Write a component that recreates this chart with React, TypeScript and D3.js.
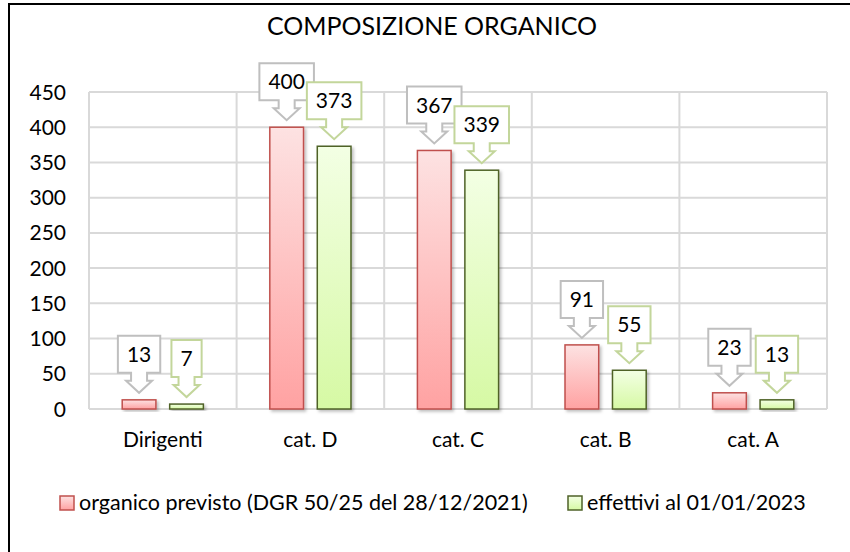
import { useRef, useEffect } from 'react'
import * as d3 from 'd3'

const categories = ['Dirigenti', 'cat. D', 'cat. C', 'cat. B', 'cat. A']
const organicoPrevisto = [13, 400, 367, 91, 23]
const effettivi = [7, 373, 339, 55, 13]
const seriesNames = ['organico previsto (DGR 50/25 del 28/12/2021)', 'effettivi al 01/01/2023']
const yTicks = [0, 50, 100, 150, 200, 250, 300, 350, 400, 450]
const title = 'COMPOSIZIONE ORGANICO'

const FONT = 'Lato, "Liberation Sans", sans-serif'

const App = () => {
  const svgRef = useRef<SVGSVGElement>(null)

  useEffect(() => {
    document.body.style.margin = '0'
    const svg = d3.select(svgRef.current)
    svg.selectAll('*').remove()

    const width = 850
    const height = 552
    const plot = { left: 89, right: 827, top: 92, bottom: 409 }

    const defs = svg.append('defs')
    const grad = (id: string, top: string, bottom: string) => {
      const g = defs.append('linearGradient').attr('id', id).attr('x1', 0).attr('y1', 0).attr('x2', 0).attr('y2', 1)
      g.append('stop').attr('offset', '0%').attr('stop-color', top)
      g.append('stop').attr('offset', '100%').attr('stop-color', bottom)
    }
    grad('gRed', '#fde2e2', '#ffa2a2')
    grad('gGreen', '#f3ffe4', '#d6f9a4')
    defs
      .append('filter')
      .attr('id', 'shadow')
      .attr('x', '-20%')
      .attr('y', '-20%')
      .attr('width', '150%')
      .attr('height', '150%')
      .append('feDropShadow')
      .attr('dx', 2)
      .attr('dy', 2)
      .attr('stdDeviation', 1.5)
      .attr('flood-color', '#000')
      .attr('flood-opacity', 0.25)

    svg.append('rect').attr('width', width).attr('height', height).attr('fill', '#fff')

    // outer frame (runs past the right and bottom edges)
    svg
      .append('rect')
      .attr('x', 9)
      .attr('y', 4)
      .attr('width', 1000)
      .attr('height', 1000)
      .attr('fill', 'none')
      .attr('stroke', '#000')
      .attr('stroke-width', 2)

    const series = [
      { name: seriesNames[0], values: organicoPrevisto, fill: 'url(#gRed)', stroke: '#c0504d', callout: '#bfbfbf' },
      { name: seriesNames[1], values: effettivi, fill: 'url(#gGreen)', stroke: '#4f6228', callout: '#c3d69b' },
    ]

    const x0 = d3.scaleBand().domain(categories).range([plot.left, plot.right]).padding(0)
    const bw = x0.bandwidth()
    const x1 = d3
      .scaleBand()
      .domain(['0', '1'])
      .range([bw * 0.225, bw * 0.775])
      .paddingInner(0.29)
      .paddingOuter(0)
    const y = d3.scaleLinear().domain([0, 450]).range([plot.bottom, plot.top])

    const grid = svg.append('g').attr('stroke', '#d9d9d9').attr('stroke-width', 2)
    yTicks.forEach((t) => {
      grid.append('line').attr('x1', plot.left).attr('x2', plot.right).attr('y1', y(t)).attr('y2', y(t))
    })
    categories.forEach((c) => {
      grid.append('line').attr('x1', x0(c)!).attr('x2', x0(c)!).attr('y1', plot.top).attr('y2', plot.bottom)
    })
    grid.append('line').attr('x1', plot.right).attr('x2', plot.right).attr('y1', plot.top).attr('y2', plot.bottom)

    // y tick labels
    svg
      .append('g')
      .selectAll('text')
      .data(yTicks)
      .join('text')
      .attr('x', 66)
      .attr('y', (d) => y(d))
      .attr('dy', '0.36em')
      .attr('text-anchor', 'end')
      .attr('font-family', FONT)
      .attr('font-size', 21)
      .attr('fill', '#000')
      .text((d) => d)

    // x labels
    svg
      .append('g')
      .selectAll('text')
      .data(categories)
      .join('text')
      .attr('x', (d) => x0(d)! + bw / 2)
      .attr('y', 447)
      .attr('text-anchor', 'middle')
      .attr('font-family', FONT)
      .attr('font-size', 21)
      .attr('fill', '#000')
      .text((d) => d)

    // bars
    series.forEach((s, si) => {
      svg
        .append('g')
        .selectAll('rect')
        .data(s.values)
        .join('rect')
        .attr('x', (_, i) => x0(categories[i])! + x1(String(si))!)
        .attr('y', (d) => y(d))
        .attr('width', x1.bandwidth())
        .attr('height', (d) => plot.bottom - y(d))
        .attr('fill', s.fill)
        .attr('stroke', s.stroke)
        .attr('stroke-width', 1.5)
        .attr('filter', 'url(#shadow)')
    })

    // callout data labels
    series.forEach((s, si) => {
      const g = svg.append('g')
      s.values.forEach((v, i) => {
        const cx = x0(categories[i])! + x1(String(si))! + x1.bandwidth() / 2
        const tip = y(v) - 7
        const headH = 12
        const shaftH = 8
        const boxH = 37
        const boxBottom = tip - headH - shaftH
        const boxTop = boxBottom - boxH
        const label = g
          .append('text')
          .attr('x', cx)
          .attr('y', boxTop + boxH / 2)
          .attr('dy', '0.36em')
          .attr('text-anchor', 'middle')
          .attr('font-family', FONT)
          .attr('font-size', 21)
          .attr('fill', '#000')
          .text(v)
        const tw = (label.node() as SVGTextElement).getComputedTextLength()
        const half = tw / 2 + 9
        const sw = 8
        const hw = 13
        const p = d3.path()
        p.moveTo(cx - half, boxTop)
        p.lineTo(cx + half, boxTop)
        p.lineTo(cx + half, boxBottom)
        p.lineTo(cx + sw, boxBottom)
        p.lineTo(cx + sw, boxBottom + shaftH)
        p.lineTo(cx + hw, boxBottom + shaftH)
        p.lineTo(cx, tip)
        p.lineTo(cx - hw, boxBottom + shaftH)
        p.lineTo(cx - sw, boxBottom + shaftH)
        p.lineTo(cx - sw, boxBottom)
        p.lineTo(cx - half, boxBottom)
        p.closePath()
        g.insert('path', 'text')
          .attr('d', p.toString())
          .attr('fill', '#fff')
          .attr('stroke', s.callout)
          .attr('stroke-width', 2)
      })
    })

    // title
    svg
      .append('text')
      .attr('x', 432)
      .attr('y', 35)
      .attr('text-anchor', 'middle')
      .attr('font-family', FONT)
      .attr('font-size', 25)
      .attr('fill', '#000')
      .text(title)

    // legend
    const legendX = [60, 568]
    series.forEach((s, si) => {
      const lg = svg.append('g').attr('transform', `translate(${legendX[si]}, 496)`)
      lg.append('rect')
        .attr('width', 14)
        .attr('height', 14)
        .attr('fill', s.fill)
        .attr('stroke', s.stroke)
        .attr('stroke-width', 1.5)
      lg.append('text')
        .attr('x', 19)
        .attr('y', 14)
        .attr('font-family', FONT)
        .attr('font-size', 21.5)
        .attr('fill', '#000')
        .text(s.name)
    })
  }, [])

  return (
    <div>
      <svg width="850" height="552" ref={svgRef} style={{ display: 'block' }}></svg>
    </div>
  )
}

export default App
